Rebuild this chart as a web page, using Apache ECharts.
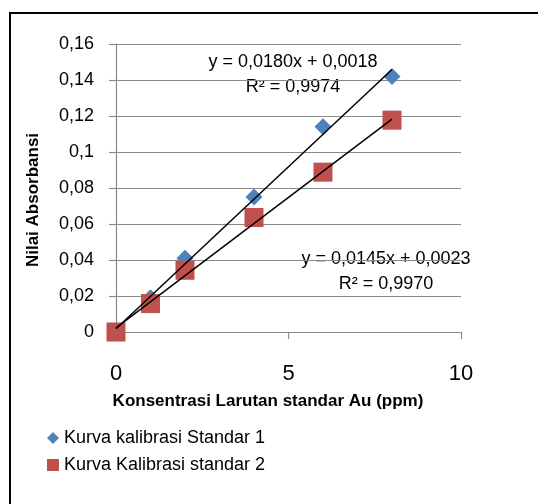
<!DOCTYPE html>
<html>
<head>
<meta charset="utf-8">
<script src="https://cdn.jsdelivr.net/npm/echarts@6/dist/echarts.min.js"></script>
<style>
    html, body { margin: 0; padding: 0; background: #fff; }
    #chart { width: 538px; height: 504px; }
</style>
</head>
<body>
<div id="chart"></div>
<script>
// konsentrasi (ppm)
let konsentrasi = [0, 1, 2, 4, 6, 8];
// absorbansi standar 1 dan 2
let standar1 = [0, 0.019, 0.041, 0.075, 0.114, 0.142];
let standar2 = [0, 0.0158, 0.0343, 0.0636, 0.0888, 0.1177];
// koefisien garis tren [slope, intercept]
let tren1 = [0.0180, 0.0018];
let tren2 = [0.0145, 0.0023];
let trenX = [0, 8];
let namaSeri = ['Kurva kalibrasi Standar 1', 'Kurva Kalibrasi standar 2'];
let persamaan1 = ['y = 0,0180x + 0,0018', 'R² = 0,9974'];
let persamaan2 = ['y = 0,0145x + 0,0023', 'R² = 0,9970'];

function pasangan(xs, ys) {
    return xs.map((x, i) => [x, ys[i]]);
}

function garisTren(c) {
    return trenX.map(x => [x, c[0] * x + c[1]]);
}

function formatKoma(v) {
    return String(Number(v.toFixed(2))).replace('.', ',');
}

let chartDom = document.getElementById('chart');
let myChart = echarts.init(chartDom);
let font = 'Liberation Sans';
let abu = '#8a8a8a';
let teks = '18px "Liberation Sans"';
let option = {
    animation: false,
    textStyle: { fontFamily: font },
    grid: {
        left: 116,
        right: 77,
        top: 44,
        bottom: 172,
    },
    xAxis: {
        type: 'value',
        min: 0,
        max: 10,
        interval: 5,
        splitLine: { show: false },
        axisLine: { lineStyle: { color: abu, width: 1.2 } },
        axisTick: { show: true, length: 7, lineStyle: { color: abu, width: 1.2 } },
        axisLabel: { fontSize: 22, color: '#000', margin: 31, fontFamily: font },
    },
    yAxis: {
        type: 'value',
        min: 0,
        max: 0.16,
        interval: 0.02,
        axisLine: { show: true, lineStyle: { color: abu, width: 1.2 } },
        axisTick: { show: true, length: 7, lineStyle: { color: abu, width: 1.2 } },
        splitLine: { lineStyle: { color: abu, width: 1.2 } },
        axisLabel: {
            fontSize: 18,
            color: '#000',
            margin: 22,
            fontFamily: font,
            formatter: formatKoma
        },
    },
    legend: {
        orient: 'vertical',
        left: 42,
        top: 424,
        itemWidth: 12,
        itemHeight: 12,
        itemGap: 9,
        textStyle: { fontSize: 18, color: '#000', fontFamily: font },
        data: [
            { name: namaSeri[0], icon: 'diamond' },
            { name: namaSeri[1], icon: 'rect' },
        ]
    },
    graphic: [
        {
            type: 'rect',
            shape: { x: 10, y: 13, width: 600, height: 600 },
            style: { fill: null, stroke: '#000', lineWidth: 2 },
            silent: true
        },
        {
            type: 'text', x: 268, y: 401,
            style: {
                text: 'Konsentrasi Larutan standar Au (ppm)',
                font: 'bold 17px "Liberation Sans"',
                fill: '#000', align: 'center', verticalAlign: 'middle'
            }
        },
        {
            type: 'text', x: 33, y: 200, rotation: Math.PI / 2,
            style: {
                text: 'Nilai Absorbansi',
                font: 'bold 17px "Liberation Sans"',
                fill: '#000', align: 'center', verticalAlign: 'middle'
            }
        },
        {
            type: 'text', x: 293, y: 62,
            style: { text: persamaan1[0], font: teks, fill: '#000', align: 'center', verticalAlign: 'middle' }
        },
        {
            type: 'text', x: 293, y: 87,
            style: { text: persamaan1[1], font: teks, fill: '#000', align: 'center', verticalAlign: 'middle' }
        },
        {
            type: 'text', x: 386, y: 259,
            style: { text: persamaan2[0], font: teks, fill: '#000', align: 'center', verticalAlign: 'middle' }
        },
        {
            type: 'text', x: 386, y: 284,
            style: { text: persamaan2[1], font: teks, fill: '#000', align: 'center', verticalAlign: 'middle' }
        },
    ],
    series: [
        {
            name: namaSeri[0],
            type: 'scatter',
            symbol: 'diamond',
            symbolSize: 17,
            itemStyle: { color: '#4F81BD', opacity: 1 },
            data: pasangan(konsentrasi, standar1),
            z: 3
        },
        {
            name: namaSeri[1],
            type: 'scatter',
            symbol: 'rect',
            symbolSize: 19,
            itemStyle: { color: '#C0504D', opacity: 1 },
            data: pasangan(konsentrasi, standar2),
            z: 4
        },
        {
            name: 'tren1',
            type: 'line',
            showSymbol: false,
            silent: true,
            lineStyle: { color: '#000', width: 1.5 },
            data: garisTren(tren1),
            z: 5
        },
        {
            name: 'tren2',
            type: 'line',
            showSymbol: false,
            silent: true,
            lineStyle: { color: '#000', width: 1.5 },
            data: garisTren(tren2),
            z: 5
        },
    ]
};
option && myChart.setOption(option);
</script>
</body>
</html>
